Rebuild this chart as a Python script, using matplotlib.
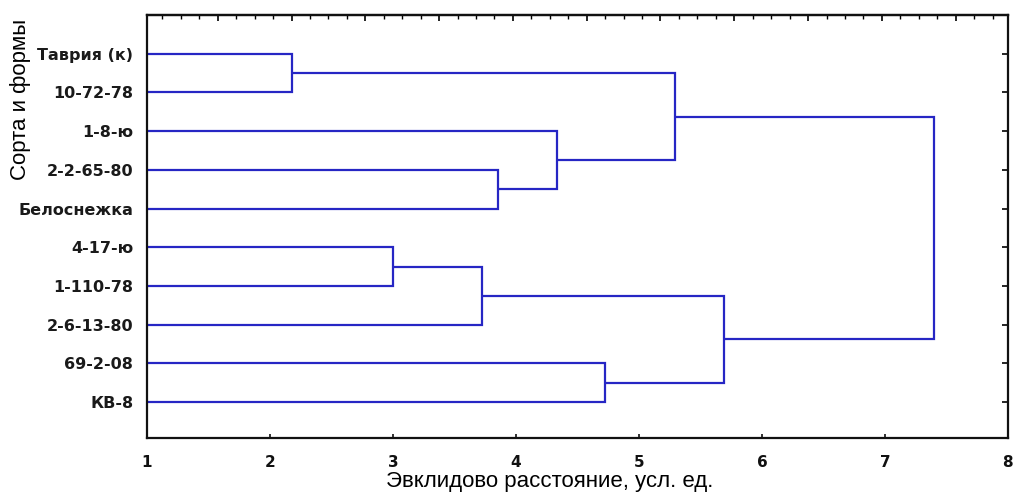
import matplotlib
matplotlib.use("Agg")
import matplotlib.pyplot as plt
from matplotlib.ticker import FixedLocator

# Leaves in display order (top to bottom)
leaves = ["Таврия (к)", "10-72-78", "1-8-ю", "2-2-65-80", "Белоснежка",
          "4-17-ю", "1-110-78", "2-6-13-80", "69-2-08", "КВ-8"]

# Merges: (child_a, child_b, height); indices < 10 are leaves, >= 10 are earlier merges
merge_a = [0, 3, 2, 10, 5, 14, 8, 15, 13]
merge_b = [1, 4, 11, 12, 6, 7, 9, 16, 17]
merge_h = [2.18, 3.85, 4.33, 5.29, 3.00, 3.72, 4.72, 5.69, 7.40]

x_ticks = [1, 2, 3, 4, 5, 6, 7, 8]
xlabel = "Эвклидово расстояние, усл. ед."
ylabel = "Сорта и формы"

line_color = "#2626c4"
x_min, x_max = 1, 8

fig = plt.figure(figsize=(10.14, 5.0), dpi=100)
ax = fig.add_axes([0.145, 0.124, 0.849, 0.846])

ypos = {i: i + 1 for i in range(len(leaves))}
xpos = {i: x_min for i in range(len(leaves))}
for k, (a, b, h) in enumerate(zip(merge_a, merge_b, merge_h)):
    node = len(leaves) + k
    ya, yb = ypos[a], ypos[b]
    ax.plot([xpos[a], h, h, xpos[b]], [ya, ya, yb, yb], color=line_color,
            lw=1.6, solid_joinstyle="miter", solid_capstyle="butt")
    ypos[node] = (ya + yb) / 2
    xpos[node] = h

ax.set_xlim(x_min, x_max)
ax.set_ylim(10.93, 0.0)

ax.set_xticks(x_ticks)
ax.set_xticklabels([str(t) for t in x_ticks], fontweight="bold", fontsize=11,
                   family="DejaVu Sans")
ax.set_yticks(range(1, len(leaves) + 1))
ax.set_yticklabels(leaves, fontweight="bold", fontsize=11.5, color="#1a1a1a",
                   family="DejaVu Sans")

ax.tick_params(axis="x", direction="in", length=3, width=1.2, pad=12, colors="#111111")
ax.tick_params(axis="y", left=False, right=True, direction="in", length=4,
               width=1.2, pad=10)

for s in ax.spines.values():
    s.set_linewidth(1.6)
    s.set_color("#111111")

# top tick marks
sec = ax.secondary_xaxis("top")
sec.xaxis.set_major_locator(FixedLocator([1.575 + 0.6 * i for i in range(12)]))
sec.xaxis.set_minor_locator(FixedLocator([1.125 + 0.15 * i for i in range(47)]))
sec.tick_params(which="major", direction="in", length=4, width=1.2, labeltop=False)
sec.tick_params(which="minor", direction="in", length=3, width=1.0)
sec.spines["top"].set_linewidth(1.6)

ax.set_xlabel(xlabel, fontsize=16, family="Liberation Sans")
ax.xaxis.set_label_coords(0.468, -0.078)
ax.set_ylabel(ylabel, fontsize=16, family="Liberation Sans")
ax.yaxis.set_label_coords(-0.135, 0.80)

fig.savefig("out.png", dpi=100)
